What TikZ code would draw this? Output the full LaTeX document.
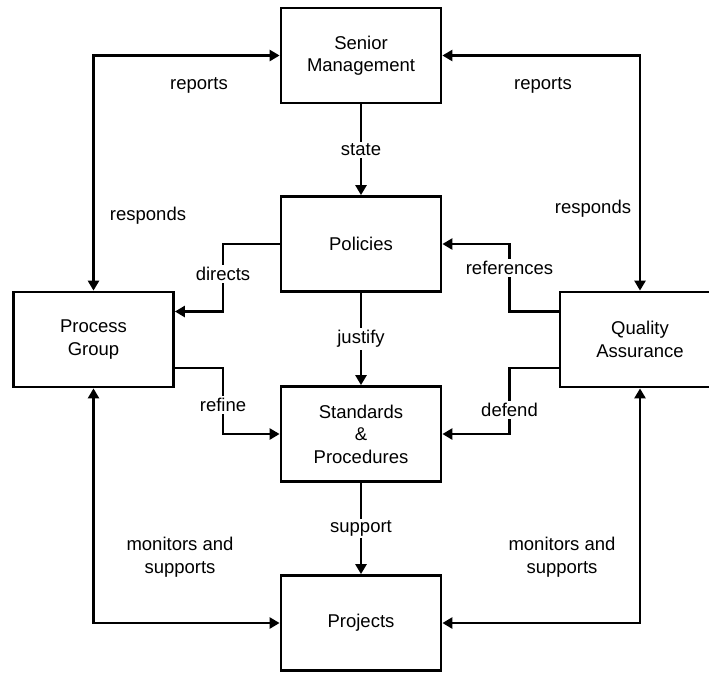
\documentclass[tikz,border=0pt]{standalone}
\usepackage{fontspec}
\setmainfont{Liberation Sans}
\usetikzlibrary{arrows.meta}
\begin{document}
\begin{tikzpicture}[x=1pt,y=-1pt,
  txt/.style={font=\fontsize{18.5}{22.5}\selectfont,align=center},
  box/.style={txt,draw,line width=2.8pt,minimum width=160pt,minimum height=95pt,inner sep=0pt},
  conn/.style={line width=2.8pt},
  tip/.tip={Triangle[length=10pt,width=11pt]},
  arr/.style={conn,-tip},
  biarr/.style={conn,tip-tip},
  onl/.style={txt,fill=white,inner sep=2pt},
  lbl/.style={txt,inner sep=1pt}
]
\useasboundingbox (0,0) rectangle (709,673);
\clip (0,0) rectangle (709,673);

\node[box] (sm) at (361,55.5) {Senior\\Management};
\node[box] (pol) at (361,244) {Policies};
\node[box] (pg) at (93.5,339.5) {Process\\Group};
\node[box] (qa) at (640,339.5) {Quality\\Assurance};
\node[box] (sp) at (361,434) {Standards\\\&\\Procedures};
\node[box] (pr) at (361,623) {Projects};

\coordinate (lx) at (223,0);
\coordinate (rx) at (509.5,0);
\coordinate (pgu) at ([yshift=28pt]pg.east);
\coordinate (pgd) at ([yshift=-28.5pt]pg.east);
\coordinate (qau) at ([yshift=28pt]qa.west);
\coordinate (qad) at ([yshift=-28.5pt]qa.west);

% central column
\draw[arr] (sm) -- node[onl] (lstate) {state} (pol);
\draw[arr] (pol) -- node[onl] (ljust) {justify} (sp);
\draw[arr] (sp) -- node[onl] (lsupp) {support} (pr);

% elbows
\draw[arr] (pol.west) -- (pol.west -| lx) -- (pgu -| lx) -- (pgu);
\node[onl] (ldir) at (223,274) {directs};
\draw[arr] (qau) -- (qau -| rx) -- (pol.east -| rx) -- (pol.east);
\node[onl] (lref) at (509.5,268) {references};
\draw[arr] (pgd) -- (pgd -| lx) -- (sp.west -| lx) -- (sp.west);
\node[onl] (lref2) at (223,405) {refine};
\draw[arr] (qad) -- (qad -| rx) -- (sp.east -| rx) -- (sp.east);
\node[onl] (ldef) at (509.5,410) {defend};

% outer loops
\draw[biarr] (pg.north) |- (sm.west);
\draw[biarr] (qa.north) |- (sm.east);
\draw[biarr] (pg.south) |- (pr.west);
\draw[biarr] (qa.south) |- (pr.east);

\node[lbl] (rep1) at (199,85) {reports};
\node[lbl] (rep2) at (543,85) {reports};
\node[lbl] (res1) at (148,216) {responds};
\node[lbl] (res2) at (593,209) {responds};
\node[lbl] (mon1) at (180,557) {monitors and\\supports};
\node[lbl] (mon2) at (562,557) {monitors and\\supports};
\end{tikzpicture}
\end{document}
